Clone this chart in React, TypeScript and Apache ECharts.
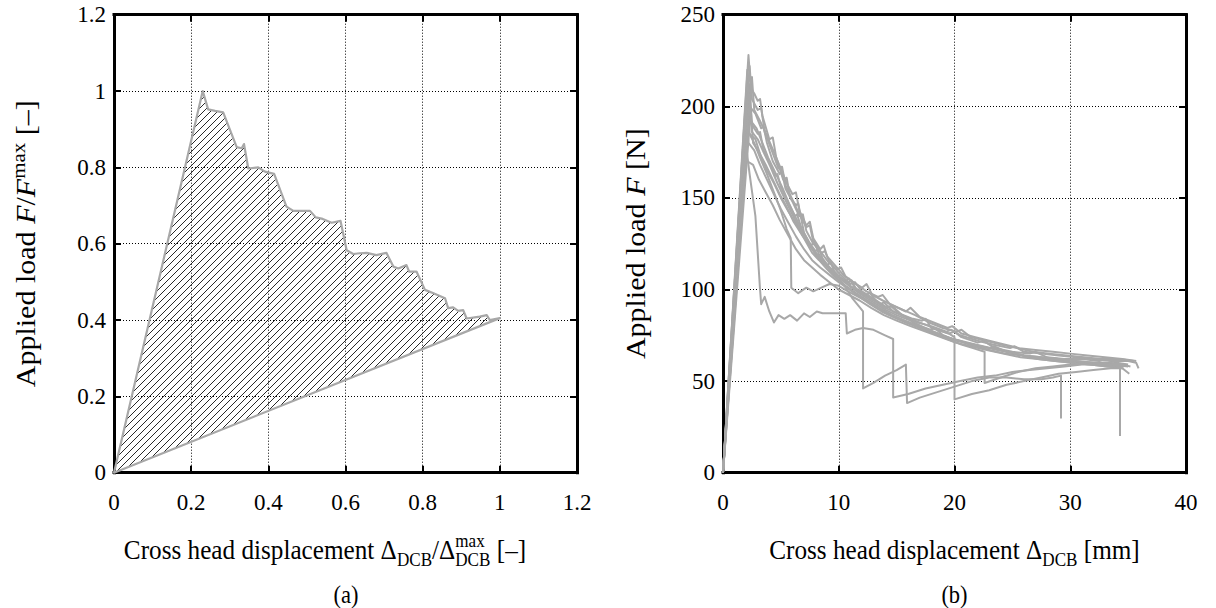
import React, { useEffect, useRef } from 'react';
import * as echarts from 'echarts';

const FONT_NAME = '"Liberation Serif", "Times New Roman", serif';
const GREY = '#a8a8a8';

// ---------- (a) normalised curve ----------
const normDisp = [0, 0.23, 0.244, 0.262, 0.283, 0.318, 0.331, 0.337, 0.348, 0.374, 0.391, 0.415, 0.447, 0.465, 0.508, 0.523, 0.541, 0.564, 0.587, 0.603, 0.62, 0.637, 0.655, 0.68, 0.706, 0.724, 0.737, 0.758, 0.765, 0.784, 0.806, 0.828, 0.858, 0.866, 0.879, 0.892, 0.905, 0.914, 0.948, 0.966, 0.974, 1.0];
const normLoad = [0, 1.0, 0.952, 0.948, 0.944, 0.853, 0.85, 0.861, 0.797, 0.8, 0.789, 0.783, 0.697, 0.686, 0.686, 0.669, 0.665, 0.655, 0.66, 0.583, 0.573, 0.575, 0.576, 0.57, 0.576, 0.54, 0.535, 0.544, 0.527, 0.527, 0.479, 0.47, 0.457, 0.431, 0.433, 0.424, 0.426, 0.404, 0.409, 0.413, 0.4, 0.405];

const leftXTicks = ['0', '0.2', '0.4', '0.6', '0.8', '1', '1.2'];
const leftYTicks = ['0', '0.2', '0.4', '0.6', '0.8', '1', '1.2'];
const rightXTicks = ['0', '10', '20', '30', '40'];
const rightYTicks = ['0', '50', '100', '150', '200', '250'];

// ---------- (b) specimens: [displacement mm, load N] ----------
const spec1 = [[0,0],[2.2,228],[2.4,210],[2.7,207],[3.0,203],[3.2,204],[3.4,195],[4.0,182],[4.3,183],[4.6,172],[5.2,160],[5.5,161],[5.8,150],[6.3,146],[6.5,147],[7.0,131],[7.6,124],[7.9,126],[8.3,119],[9.0,113],[9.3,115],[9.6,110],[10.5,104],[10.9,106],[11.4,101],[12.3,97],[12.7,98],[13.2,94],[14.0,90],[14.5,91],[15.2,87],[16.4,84],[17.2,83],[17.5,84],[18.0,79],[19.5,76],[20.0,77],[20.6,74],[22.0,71],[22.5,72],[23.5,68],[25.0,66],[26.5,65],[27.0,66],[28.0,63],[29.5,62],[31.0,62],[32.5,61],[33.0,62],[34.0,60],[35.0,59]];
const spec2 = [[0,0],[2.1,220],[2.3,200],[2.8,196],[3.3,188],[3.5,189],[3.8,180],[4.3,170],[4.9,163],[5.1,164],[5.4,155],[6.0,148],[6.6,140],[6.9,141],[7.2,132],[7.8,125],[8.5,120],[8.8,121],[9.2,115],[10.0,109],[11.0,103],[11.4,104],[12.0,99],[13.0,95],[14.2,90],[14.6,91],[15.5,86],[16.8,82],[18.0,80],[19.3,77],[19.7,78],[20.5,75],[22.0,72],[23.3,70],[24.8,68],[25.2,69],[26.0,66],[27.5,65],[29.0,64],[30.5,63],[32.0,62],[33.5,61],[35.0,61],[35.7,60],[35.9,57]];
const spec3 = [[0,0],[2.3,212],[2.5,190],[3.0,185],[3.2,186],[3.5,176],[4.0,170],[4.5,162],[4.7,163],[5.0,156],[5.6,148],[6.2,140],[6.4,141],[6.8,133],[7.4,126],[8.0,121],[8.3,122],[8.6,117],[9.2,112],[10.0,107],[10.8,104],[11.1,105],[11.6,99],[12.5,96],[13.6,92],[13.9,93],[14.7,88],[15.8,85],[16.7,81],[17.9,78],[18.3,79],[19.0,75],[20.2,72],[21.5,70],[23.0,68],[23.4,69],[24.5,66],[26.0,64],[27.5,63],[29.0,62],[30.5,61],[32.0,60],[33.5,60],[34.3,59],[34.3,52]];
const spec4 = [[0,0],[2.0,205],[2.3,185],[2.8,182],[3.3,172],[3.8,165],[4.4,158],[5.0,150],[5.7,142],[6.3,136],[7.0,128],[7.7,120],[8.3,116],[9.0,111],[9.8,106],[10.6,102],[11.5,98],[12.5,94],[13.5,90],[14.6,86],[15.7,83],[16.9,80],[18.0,77],[19.2,74],[20.4,72],[21.7,69],[23.0,67],[24.4,65],[25.8,64],[27.2,62],[28.7,61],[30.2,60],[31.7,59],[33.2,58],[34.5,57],[35.1,54]];
const spec5 = [[0,0],[2.4,198],[2.6,180],[3.1,175],[3.7,168],[4.3,160],[4.9,152],[5.5,145],[6.1,137],[6.8,130],[7.5,124],[8.1,118],[8.8,114],[9.5,109],[10.3,105],[11.1,101],[12.0,97],[13.0,93],[14.0,89],[15.0,86],[16.2,83],[17.4,79],[18.6,76],[19.8,73],[21.0,71],[22.3,69],[23.7,67],[25.2,65],[26.7,63],[28.2,62],[29.7,61],[31.2,60],[32.7,59],[34.0,58],[34.3,58],[34.3,20]];
const spec6 = [[0,0],[2.5,216],[2.7,198],[3.2,192],[3.8,184],[4.4,175],[5.0,166],[5.5,158],[6.0,152],[6.3,153],[6.6,143],[7.2,135],[7.5,137],[7.8,128],[8.4,122],[8.7,124],[9.0,118],[9.7,113],[10.4,108],[11.2,104],[12.0,101],[12.4,103],[12.9,97],[13.8,94],[14.8,91],[15.8,88],[16.2,90],[17.0,85],[18.2,82],[19.4,79],[19.8,80],[20.6,76],[21.8,74],[23.0,72],[24.3,70],[25.6,68],[27.0,67],[28.5,66],[30.0,65],[31.5,64],[33.0,63],[34.5,62],[35.7,61]];
const spec7 = [[0,0],[1.9,185],[2.1,170],[2.6,168],[3.1,160],[3.7,153],[4.3,146],[4.9,138],[5.6,130],[6.3,122],[7.0,116],[7.7,112],[8.4,108],[9.2,104],[10.0,100],[10.9,97],[11.8,94],[12.8,90],[13.9,86],[15.0,83],[16.2,80],[17.5,77],[18.8,74],[20.1,71],[21.4,69],[22.8,67],[24.2,65],[25.7,63],[27.2,62],[28.7,61],[30.2,60],[31.7,59],[33.2,58],[34.6,58]];
const spec8 = [[0,0],[2.3,222],[2.5,204],[3.0,198],[3.3,199],[3.6,186],[4.2,176],[4.8,166],[5.1,167],[5.4,157],[6.0,149],[6.6,141],[7.2,134],[7.5,135],[7.8,126],[8.4,121],[9.1,115],[9.8,111],[10.2,112],[10.6,107],[11.5,103],[12.4,99],[13.4,96],[13.8,97],[14.4,92],[15.5,89],[16.6,86],[17.8,82],[19.0,79],[20.2,77],[20.6,78],[21.4,74],[22.7,72],[24.0,70],[25.4,68],[26.8,66],[28.2,65],[29.7,64],[31.2,63],[32.7,62],[34.2,62],[35.5,61]];
const spec9 = [[0,0],[2.2,210],[2.4,192],[2.9,188],[3.4,180],[3.9,172],[4.5,164],[5.1,156],[5.7,147],[6.3,139],[7.0,130],[7.6,123],[8.2,118],[8.9,113],[9.6,108],[10.4,103],[11.2,95],[12.1,88],[12.1,46],[13.0,49],[14.0,53],[15.0,56],[15.8,59],[15.9,38],[17.0,41],[18.5,44],[20.0,47],[21.5,50],[23.0,52],[24.5,52],[26.0,51],[27.5,51],[28.5,52],[29.2,53],[29.2,29.6]];
const spec10 = [[0,0],[2.0,195],[2.2,180],[2.7,176],[3.2,168],[3.8,160],[4.4,152],[5.0,144],[5.6,137],[6.3,129],[7.0,122],[7.7,116],[8.4,112],[9.2,108],[10.0,104],[10.9,100],[11.8,96],[12.7,92],[13.7,88],[14.7,85],[15.8,82],[17.0,79],[18.2,76],[19.4,73],[20.6,70],[21.6,68],[22.6,66],[22.6,49],[24.0,52],[25.5,55],[27.0,57],[28.5,58],[30.0,59],[31.5,60],[33.0,60],[34.5,59],[35.2,58]];
const spec11 = [[0,0],[2.3,203],[2.5,186],[3.0,182],[3.5,175],[4.1,167],[4.7,158],[5.3,150],[5.9,142],[6.5,135],[7.2,127],[7.9,121],[8.6,116],[9.4,111],[10.2,106],[11.0,102],[12.0,98],[13.0,94],[14.0,90],[15.1,87],[16.2,84],[17.4,81],[18.6,78],[19.5,76],[20.0,74],[20.0,40],[21.5,43],[23.0,45],[24.5,48],[26.0,50],[27.5,52],[29.0,54],[30.5,55],[32.0,56],[33.5,57],[34.6,57]];
const spec12 = [[0,0],[2.0,200],[2.2,186],[2.7,180],[3.2,172],[3.8,163],[4.4,153],[5.0,143],[5.5,133],[5.85,128],[5.9,101],[6.5,98],[7.2,101],[7.8,99],[8.5,101],[9.2,103],[10.0,102],[10.8,99],[11.7,96],[12.6,93],[13.6,89],[14.6,86],[15.7,83],[16.9,80],[18.1,77],[19.3,74],[20.5,72],[21.8,70],[23.2,68],[24.6,66],[26.0,64],[27.5,63],[29.0,62],[30.5,61],[32.0,60],[33.5,59],[35.0,58]];
const spec13 = [[0,0],[2.0,178],[2.3,163],[2.8,140],[3.2,100],[3.3,92],[3.6,96],[4.0,88],[4.4,82],[4.8,86],[5.3,84],[5.8,86],[6.4,83],[7.0,87],[7.5,85],[8.1,88],[8.6,87],[9.4,87],[10.1,87],[10.6,87],[10.7,76],[11.4,78],[12.1,79],[13.0,78],[14.0,75],[14.7,73],[14.7,41],[16.0,43],[17.5,46],[19.0,48],[20.5,50],[22.0,52],[23.5,53],[25.0,55],[26.5,56],[28.0,57],[29.5,58],[31.0,59],[32.5,59],[34.0,59]];

const specimens = [spec1, spec2, spec3, spec4, spec5, spec6, spec7, spec8, spec9, spec10, spec11, spec12, spec13];

// ---------- text layout helpers ----------
type Piece = { t: string; s: number; i?: boolean; dy?: number; stack?: boolean };
const measureCtx = typeof document !== 'undefined' ? document.createElement('canvas').getContext('2d') : null;
function fontOf(p: Piece) {
  return `${p.i ? 'italic ' : ''}${p.s}px ${FONT_NAME}`;
}
function textWidth(p: Piece) {
  if (!measureCtx) return p.t.length * p.s * 0.5;
  measureCtx.font = fontOf(p);
  return measureCtx.measureText(p.t).width;
}
function titleGroup(pieces: Piece[], x: number, y: number, rotate: boolean, squeeze: number) {
  let cur = 0;
  const kids: any[] = [];
  for (const p of pieces) {
    const w = textWidth(p);
    kids.push({
      type: 'text',
      x: cur,
      y: (p.dy || 0) - 0.31 * p.s,
      style: {
        text: p.t,
        font: fontOf(p),
        fill: '#000',
        align: 'left',
        verticalAlign: 'middle',
        textAlign: 'left',
        textVerticalAlign: 'middle',
      },
    });
    if (!p.stack) cur += w;
  }
  kids.forEach((k) => (k.x -= cur / 2));
  return {
    type: 'group',
    x,
    y,
    rotation: rotate ? Math.PI / 2 : 0,
    scaleX: rotate ? 1 : squeeze,
    scaleY: rotate ? squeeze : 1,
    children: kids,
    silent: true,
  };
}

// tick label text placed at the pixel that the axis scale gives for each tick value
function tickLabel(text: string, px: number[], kind: 'x' | 'y') {
  return {
    type: 'text',
    x: kind === 'x' ? px[0] : px[0] - 8,
    y: kind === 'x' ? px[1] + 30 : px[1],
    silent: true,
    style: {
      text,
      font: `23px ${FONT_NAME}`,
      fill: '#000',
      align: kind === 'x' ? 'center' : 'right',
      verticalAlign: 'middle',
      textAlign: kind === 'x' ? 'center' : 'right',
      textVerticalAlign: 'middle',
    },
  };
}

function makeAxis(gridIndex: number, min: number, max: number, interval: number, position: string, main: boolean) {
  return {
    type: 'value',
    gridIndex,
    position,
    min,
    max,
    interval,
    axisLine: { show: true, onZero: false, lineStyle: { color: '#000', width: 3, cap: 'square' } },
    axisTick: { show: true, inside: true, length: 7, lineStyle: { color: '#000', width: 2 } },
    axisLabel: { show: false },
    splitLine: main ? { show: true, lineStyle: { color: '#000', width: 1, type: [1, 2] } } : { show: false },
  };
}

export default function App() {
  const ref = useRef<HTMLDivElement>(null);
  useEffect(() => {
    document.body.style.margin = '0';
    if (!ref.current) return;
    const chart = echarts.init(ref.current, undefined, { renderer: 'svg' });

    const tile = document.createElement('canvas');
    tile.width = 7;
    tile.height = 7;
    const tc = tile.getContext('2d')!;
    tc.strokeStyle = '#111';
    tc.lineWidth = 0.9;
    tc.beginPath();
    tc.moveTo(0, 7); tc.lineTo(7, 0);
    tc.moveTo(-1, 1); tc.lineTo(1, -1);
    tc.moveTo(6, 8); tc.lineTo(8, 6);
    tc.stroke();
    const hatch: any = { image: tile, repeat: 'repeat', imageWidth: 7, imageHeight: 7 };

    const grids = [
      { left: 114, top: 14.7, width: 463, height: 458 },
      { left: 723, top: 14.7, width: 463, height: 458 },
    ];

    const xAxis = [
      makeAxis(0, 0, 1.2, 0.2, 'bottom', true),
      makeAxis(0, 0, 1.2, 0.2, 'top', false),
      makeAxis(1, 0, 40, 10, 'bottom', true),
      makeAxis(1, 0, 40, 10, 'top', false),
    ];
    const yAxis = [
      makeAxis(0, 0, 1.2, 0.2, 'left', true),
      makeAxis(0, 0, 1.2, 0.2, 'right', false),
      makeAxis(1, 0, 250, 50, 'left', true),
      makeAxis(1, 0, 250, 50, 'right', false),
    ];

    const series: any[] = [
      {
        type: 'custom',
        xAxisIndex: 0,
        yAxisIndex: 0,
        data: [[0, 0]],
        silent: true,
        z: 3,
        renderItem: (_params: any, api: any) => ({
          type: 'polygon',
          shape: { points: normDisp.map((x, i) => api.coord([x, normLoad[i]])) },
          style: { fill: hatch, stroke: GREY, lineWidth: 2.2, lineJoin: 'round' },
        }),
      },
      ...specimens.map((d) => ({
        type: 'line',
        xAxisIndex: 2,
        yAxisIndex: 2,
        data: d,
        showSymbol: false,
        silent: true,
        z: 3,
        lineStyle: { color: GREY, width: 2, join: 'round' },
      })),
    ];

    const sub = 8;
    const sup = -11;
    const SQ = 0.9;
    const titles: any[] = [
      titleGroup(
        [
          { t: 'Cross head displacement \u0394', s: 28 },
          { t: 'DCB', s: 19, dy: sub },
          { t: '/\u0394', s: 28 },
          { t: 'max', s: 19, dy: sup, stack: true },
          { t: 'DCB', s: 19, dy: sub },
          { t: ' [\u2013]', s: 28 },
        ],
        325,
        558,
        false,
        SQ
      ),
      titleGroup(
        [
          { t: 'Cross head displacement \u0394', s: 28 },
          { t: 'DCB', s: 19, dy: sub },
          { t: ' [mm]', s: 28 },
        ],
        954.5,
        558,
        false,
        SQ
      ),
      titleGroup([{ t: '(a)', s: 25 }], 346, 602, false, SQ),
      titleGroup([{ t: '(b)', s: 25 }], 954.5, 602, false, SQ),
      titleGroup(
        [
          { t: 'Applied load ', s: 30 },
          { t: 'F', s: 30, i: true },
          { t: '/', s: 30 },
          { t: 'F', s: 30, i: true },
          { t: 'max', s: 21, dy: -11 },
          { t: ' [\u2013]', s: 30 },
        ],
        34,
        243.7,
        true,
        SQ
      ),
      titleGroup(
        [
          { t: 'Applied load ', s: 30 },
          { t: 'F', s: 30, i: true },
          { t: ' [N]', s: 30 },
        ],
        644,
        243.7,
        true,
        SQ
      ),
    ];

    chart.setOption({
      animation: false,
      backgroundColor: '#fff',
      grid: grids,
      xAxis,
      yAxis,
      series,
      graphic: titles,
    });

    // tick labels, positioned by the axes' own scales
    const labels: any[] = [];
    const addX = (xIdx: number, yIdx: number, ticks: string[], step: number) => {
      ticks.forEach((t, i) => {
        const px = chart.convertToPixel({ xAxisIndex: xIdx, yAxisIndex: yIdx } as any, [i * step, 0]) as number[];
        labels.push(tickLabel(t, px, 'x'));
      });
    };
    const addY = (xIdx: number, yIdx: number, ticks: string[], step: number) => {
      ticks.forEach((t, i) => {
        const px = chart.convertToPixel({ xAxisIndex: xIdx, yAxisIndex: yIdx } as any, [0, i * step]) as number[];
        labels.push(tickLabel(t, px, 'y'));
      });
    };
    addX(0, 0, leftXTicks, 0.2);
    addY(0, 0, leftYTicks, 0.2);
    addX(2, 2, rightXTicks, 10);
    addY(2, 2, rightYTicks, 50);
    chart.setOption({ graphic: [...titles, ...labels] });

    return () => chart.dispose();
  }, []);
  return <div ref={ref} style={{ width: 1216, height: 608 }} />;
}
